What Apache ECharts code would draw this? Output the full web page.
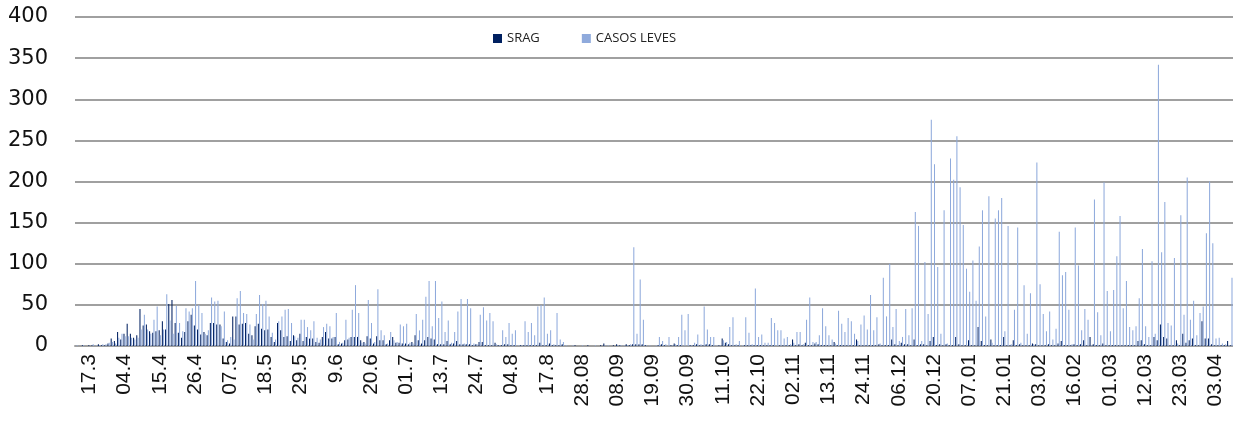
<!DOCTYPE html>
<html>
<head>
<meta charset="utf-8">
<title>SRAG e casos leves</title>
<script src="https://cdn.jsdelivr.net/npm/echarts@6/dist/echarts.min.js"></script>
<style>
  html, body { margin: 0; padding: 0; background: #fff; }
  #chart { width: 1233px; height: 428px; }
</style>
</head>
<body>
<div id="chart"></div>
<script>
// one tick label every 11 rows, the first one on row 4
const tickLabels = [
  "17.3", "04.4", "15.4", "26.4", "07.5", "18.5", "29.5", "9.6", "20.6", "01.7", "13.7",
  "24.7", "04.8", "17.8", "28.08", "08.09", "19.09", "30.09", "11.10", "22.10", "02.11",
  "13.11", "24.11", "06.12", "20.12", "07.01", "21.01", "03.02", "16.02", "01.03", "12.03",
  "23.03", "03.04",
];
const firstLabelRow = 4;
const labelStep = 11;

const srag = [
  0, 0, 1, 0, 1, 1, 0, 2, 1, 1,
  3, 9, 6, 17, 8, 15, 27, 15, 10, 13,
  45, 25, 26, 18, 16, 18, 19, 30, 20, 51,
  56, 28, 16, 10, 17, 30, 38, 25, 20, 14,
  17, 13, 28, 28, 26, 26, 9, 5, 3, 36,
  36, 26, 27, 28, 15, 13, 24, 27, 21, 19,
  20, 11, 5, 28, 19, 11, 12, 6, 13, 7,
  15, 6, 11, 9, 9, 5, 4, 11, 17, 9,
  9, 11, 2, 3, 7, 8, 11, 11, 11, 7,
  5, 12, 9, 3, 12, 7, 7, 2, 7, 11,
  4, 4, 3, 3, 2, 5, 13, 7, 3, 7,
  11, 9, 8, 2, 2, 2, 6, 2, 3, 6,
  2, 2, 2, 2, 1, 2, 5, 5, 1, 1,
  1, 4, 1, 1, 2, 2, 1, 1, 0, 1,
  1, 1, 1, 1, 1, 4, 1, 1, 3, 1,
  1, 1, 2, 0, 0, 0, 1, 0, 0, 0,
  1, 0, 0, 0, 1, 3, 0, 0, 1, 2,
  1, 0, 2, 1, 2, 2, 2, 2, 1, 0,
  0, 0, 1, 2, 1, 0, 1, 3, 1, 1,
  0, 0, 1, 1, 2, 1, 1, 2, 2, 1,
  0, 1, 9, 4, 2, 1, 1, 1, 0, 1,
  1, 1, 1, 1, 1, 1, 1, 1, 1, 0,
  1, 1, 1, 1, 8, 1, 2, 1, 4, 1,
  1, 3, 2, 1, 1, 1, 1, 5, 1, 1,
  1, 1, 1, 1, 8, 1, 1, 1, 1, 1,
  1, 2, 1, 1, 1, 8, 2, 1, 4, 2,
  2, 1, 8, 1, 2, 2, 1, 6, 11, 1,
  2, 1, 2, 1, 1, 11, 2, 1, 1, 7,
  1, 1, 23, 6, 1, 1, 8, 1, 1, 1,
  11, 1, 1, 7, 1, 2, 1, 1, 1, 3,
  2, 1, 1, 1, 2, 1, 1, 3, 6, 1,
  1, 1, 2, 1, 2, 7, 1, 11, 2, 1,
  1, 3, 1, 1, 1, 1, 1, 1, 1, 1,
  1, 1, 6, 7, 2, 1, 1, 11, 7, 26,
  11, 9, 1, 1, 7, 1, 15, 4, 7, 9,
  1, 1, 30, 9, 9, 2, 1, 1, 1, 1,
  6, 1,
];

const casosLeves = [
  1, 0, 1, 0, 0, 2, 1, 1, 2, 2,
  4, 5, 3, 10, 15, 12, 12, 10, 8, 10,
  20, 38, 20, 15, 32, 48, 13, 20, 63, 31,
  15, 49, 28, 18, 46, 42, 46, 79, 50, 40,
  15, 19, 59, 54, 55, 24, 42, 7, 11, 8,
  58, 67, 40, 39, 26, 8, 39, 62, 51, 55,
  36, 16, 8, 30, 36, 44, 45, 28, 12, 10,
  32, 32, 23, 19, 30, 10, 8, 23, 27, 24,
  11, 40, 5, 4, 32, 10, 44, 74, 40, 4,
  3, 56, 28, 5, 69, 19, 13, 3, 17, 7,
  5, 26, 24, 27, 4, 3, 39, 19, 32, 60,
  79, 24, 79, 34, 54, 17, 31, 4, 17, 42,
  57, 3, 57, 46, 3, 2, 38, 47, 31, 40,
  30, 2, 1, 19, 11, 28, 15, 19, 1, 1,
  30, 17, 28, 13, 48, 50, 59, 15, 19, 2,
  40, 8, 5, 1, 0, 1, 0, 0, 1, 0,
  0, 0, 1, 0, 0, 1, 1, 0, 0, 1,
  1, 1, 1, 2, 120, 15, 81, 32, 1, 1,
  0, 1, 11, 6, 2, 11, 1, 2, 11, 38,
  19, 39, 1, 4, 14, 2, 48, 20, 11, 11,
  1, 1, 7, 5, 23, 35, 2, 6, 1, 35,
  16, 2, 70, 11, 14, 4, 4, 34, 28, 19,
  19, 9, 11, 2, 4, 17, 17, 2, 32, 59,
  5, 5, 13, 46, 24, 13, 8, 3, 43, 27,
  17, 34, 30, 15, 6, 26, 37, 20, 62, 19,
  35, 3, 83, 36, 100, 23, 45, 6, 11, 45,
  13, 46, 163, 146, 6, 102, 39, 275, 221, 96,
  15, 165, 3, 228, 202, 255, 193, 147, 94, 66,
  104, 55, 121, 165, 36, 182, 4, 155, 165, 180,
  18, 146, 2, 44, 144, 4, 74, 15, 64, 2,
  223, 75, 39, 18, 42, 8, 21, 139, 86, 90,
  44, 2, 144, 98, 19, 45, 32, 1, 178, 41,
  13, 199, 67, 18, 68, 109, 158, 46, 79, 23,
  19, 24, 58, 118, 24, 11, 103, 15, 342, 114,
  175, 28, 25, 107, 3, 159, 38, 205, 32, 55,
  13, 40, 48, 137, 200, 125, 9, 10, 3, 2,
  1, 83,
];

// rows without a tick label stay blank
const categories = srag.map((v, i) => {
  const k = (i - firstLabelRow) / labelStep;
  return i >= firstLabelRow && Number.isInteger(k) && k < tickLabels.length ? tickLabels[k] : "";
});

const chart = echarts.init(document.getElementById("chart"));

chart.setOption({
  animation: false,
  textStyle: { fontFamily: "Liberation Sans, Arial, sans-serif" },
  legend: {
    top: 27,
    left: 488,
    itemWidth: 9,
    itemHeight: 9,
    itemGap: 42,
    icon: "rect",
    textStyle: { fontFamily: "Open Sans, sans-serif", fontSize: 13, color: "#222" },
    data: ["SRAG", "CASOS LEVES"],
  },
  grid: { left: 75, right: 0, top: 17, bottom: 82, outerBoundsMode: "none" },
  xAxis: {
    type: "category",
    data: categories,
    axisTick: { show: false },
    axisLine: { lineStyle: { color: "#a0a0a0", width: 2 } },
    axisLabel: {
      interval: (i) => i >= firstLabelRow && (i - firstLabelRow) % labelStep === 0,
      rotate: 90,
      margin: 8,
      fontSize: 21,
      color: "#111",
    },
  },
  yAxis: {
    type: "value",
    min: 0,
    max: 400,
    interval: 50,
    axisLine: { show: false },
    axisTick: { show: false },
    axisLabel: { fontFamily: "DejaVu Sans, sans-serif", fontSize: 21, color: "#111", margin: 27 },
    splitLine: { lineStyle: { color: "#a0a0a0", width: 2 } },
  },
  series: [
    {
      name: "SRAG",
      type: "bar",
      data: srag,
      barGap: "15%",
      barCategoryGap: "30%",
      itemStyle: { color: "#002060" },
    },
    {
      name: "CASOS LEVES",
      type: "bar",
      data: casosLeves,
      itemStyle: { color: "#8faadc" },
    },
  ],
});

window.addEventListener("resize", () => chart.resize());
</script>
</body>
</html>
